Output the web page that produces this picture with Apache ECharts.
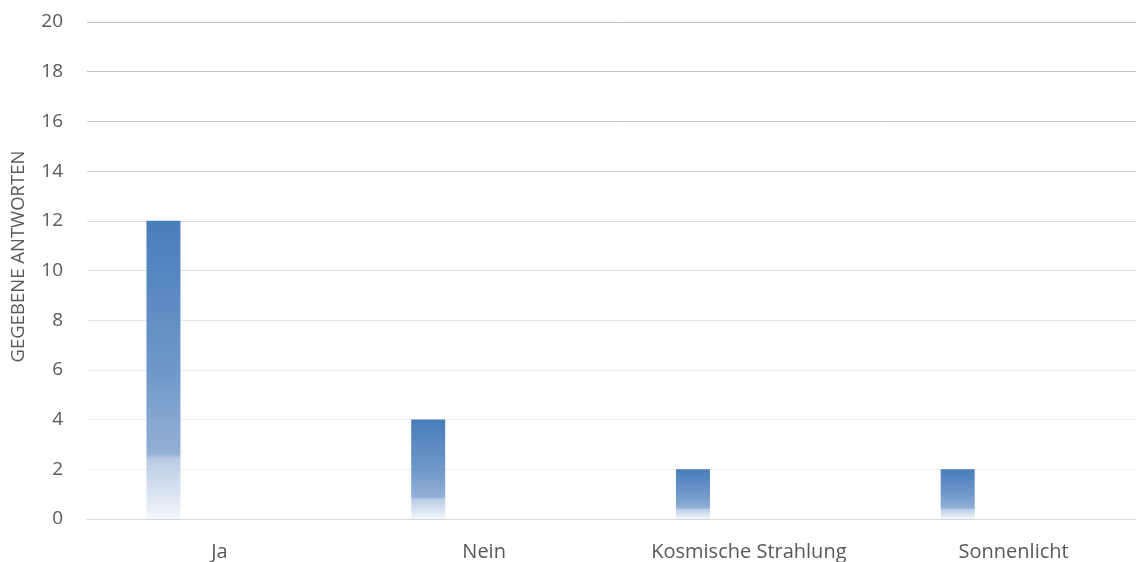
<!DOCTYPE html>
<html>
<head>
<meta charset="utf-8">
<title>Gegebene Antworten</title>
<script src="https://cdn.jsdelivr.net/npm/echarts@6/dist/echarts.min.js"></script>
<style>
  html, body { margin: 0; padding: 0; background: #ffffff; overflow: hidden; }
  /* Zeichenfläche etwas breiter als das Fenster: die letzte Kategorie läuft rechts aus */
  #chart { width: 1146px; height: 562px; }
</style>
</head>
<body>
<div id="chart"></div>
<script>
// Antwortkategorien und Anzahl der Antworten
const kategorien = ['Ja', 'Nein', 'Kosmische Strahlung', 'Sonnenlicht'];
const antworten = [12, 4, 2, 2];
// leere zweite Reihe, belegt den rechten Platz je Kategorie
const leereReihe = [null, null, null, null];
const yTicks = { min: 0, max: 20, interval: 2 };

// Gitterlinien von 0 bis 20, nach oben hin etwas kräftiger
const gitterFarben = ['#d9d9d9', '#efefef', '#eeeeee', '#ebebeb', '#e4e4e4', '#e0e0e0',
                      '#dadada', '#cccccc', '#c6c6c6', '#c3c3c3', '#c0c0c0'];

const schrift = '"Open Sans", Lato, sans-serif';
const textFarbe = '#595959';

const balkenFuellung = new echarts.graphic.LinearGradient(0, 0, 0, 1, [
  { offset: 0, color: '#4a7dbb' },
  { offset: 0.5, color: '#6e98c9' },
  { offset: 0.78, color: '#93b0d6' },
  { offset: 0.8, color: '#b9cce5' },
  { offset: 1, color: '#f3f7fc' }
]);

const chart = echarts.init(document.getElementById('chart'), null, { renderer: 'canvas' });
chart.setOption({
  animation: false,
  backgroundColor: '#ffffff',
  grid: { left: 87, top: 22, right: 0, bottom: 42, containLabel: false },
  xAxis: {
    type: 'category',
    data: kategorien,
    axisLine: { show: true, lineStyle: { color: '#d9d9d9', width: 1 } },
    axisTick: { show: false },
    axisLabel: { color: textFarbe, fontFamily: schrift, fontSize: 20, margin: 23 },
    splitLine: { show: false }
  },
  yAxis: {
    type: 'value',
    min: yTicks.min,
    max: yTicks.max,
    interval: yTicks.interval,
    name: 'GEGEBENE ANTWORTEN',
    nameLocation: 'middle',
    nameGap: 59,
    nameRotate: 90,
    nameTextStyle: { color: textFarbe, fontFamily: schrift, fontSize: 18.5, padding: [0, 0, 0, 28] },
    axisLine: { show: false },
    axisTick: { show: false },
    axisLabel: { color: textFarbe, fontFamily: schrift, fontSize: 19, margin: 24 },
    splitLine: { show: true, lineStyle: { color: gitterFarben, width: 1 } }
  },
  series: [
    {
      type: 'bar',
      data: antworten,
      barWidth: 34,
      barGap: '229%',
      itemStyle: { color: balkenFuellung }
    },
    {
      type: 'bar',
      data: leereReihe,
      barWidth: 34,
      itemStyle: { color: '#c0504d' }
    }
  ]
});
</script>
</body>
</html>
